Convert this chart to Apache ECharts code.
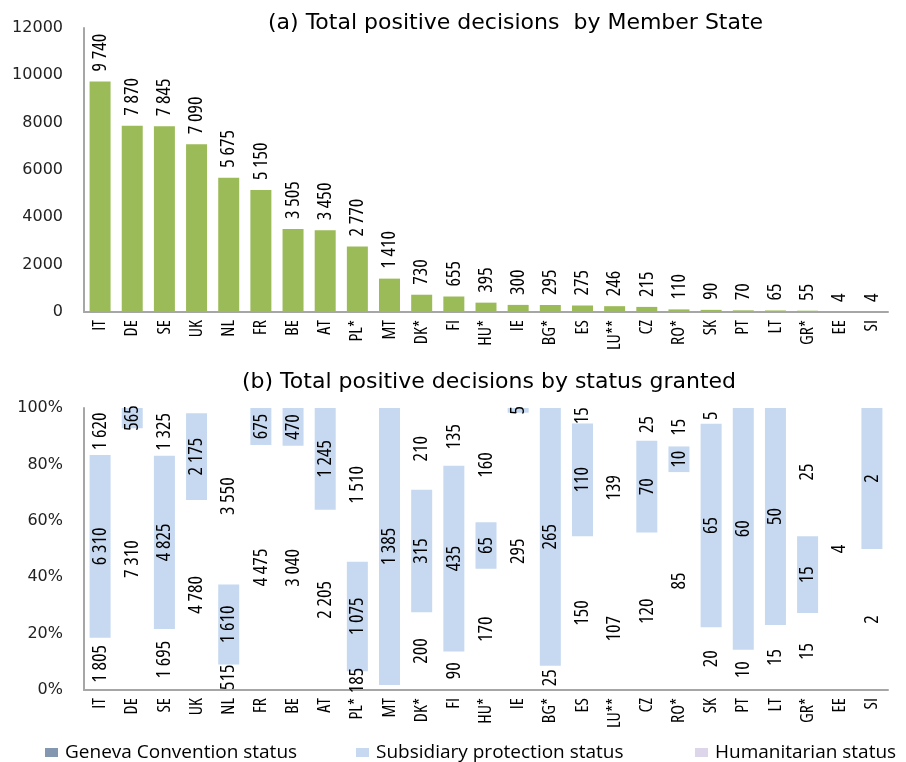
<!DOCTYPE html>
<html>
<head>
<meta charset="utf-8">
<script src="https://cdn.jsdelivr.net/npm/echarts@6/dist/echarts.min.js"></script>
<style>
  html, body { margin: 0; padding: 0; background: #fff; }
  #chart { width: 906px; height: 762px; }
</style>
</head>
<body>
<div id="chart"></div>
<script>
// Member States, ordered by total positive decisions
const categories = ['IT','DE','SE','UK','NL','FR','BE','AT','PL*','MT','DK*','FI','HU*','IE','BG*','ES','LU**','CZ','RO*','SK','PT','LT','GR*','EE','SI'];

// (a) total positive decisions
const totals = [9740,7870,7845,7090,5675,5150,3505,3450,2770,1410,730,655,395,300,295,275,246,215,110,90,70,65,55,4,4];

// (b) positive decisions by status granted
const geneva       = [1805,7310,1695,4780,515,4475,3040,2205,185,25,200,90,170,295,25,150,107,120,85,20,10,15,15,4,2];
const subsidiary   = [6310,565,4825,2175,1610,675,470,1245,1075,1385,315,435,65,5,265,110,0,70,10,65,60,50,15,0,2];
const humanitarian = [1620,0,1325,135,3550,0,0,0,1510,0,210,135,160,0,0,15,139,25,15,5,0,0,25,0,0];

// segments drawn without a value label
const unlabelled = { geneva: ['MT'], humanitarian: ['UK'] };

const yTicksA = { min: 0, max: 12000, interval: 2000 };
const yTicksB = { min: 0, max: 100, interval: 20 };

const statusNames = ['Geneva Convention status', 'Subsidiary protection status', 'Humanitarian status'];
const legendColors = ['#8497b0', '#c6d9f1', '#ddd5ea'];

// narrow label face: Open Sans at its condensed width
const narrow = { fontFamily: "'Open Sans', sans-serif", fontStyle: 'condensed' };
const wideFont = "'DejaVu Sans', Verdana, sans-serif";

function fmt(v) {
  return String(v).replace(/\B(?=(\d{3})+(?!\d))/g, ' ');
}

const sums = categories.map((c, i) => geneva[i] + subsidiary[i] + humanitarian[i]);

function shareSeries(name, values, color, key) {
  const skip = unlabelled[key] || [];
  return {
    name: name,
    type: 'bar',
    stack: 'share',
    xAxisIndex: 1,
    yAxisIndex: 1,
    barWidth: 21,
    itemStyle: { color: color },
    emphasis: { disabled: true },
    data: values.map((v, i) => ({
      value: v / sums[i] * 100,
      raw: v,
      label: { show: v > 0 && skip.indexOf(categories[i]) < 0 }
    })),
    label: Object.assign({
      show: true,
      position: 'inside',
      rotate: 90,
      align: 'center',
      verticalAlign: 'middle',
      fontSize: 20,
      color: '#000',
      formatter: p => fmt(p.data.raw)
    }, narrow)
  };
}

const axisLineStyle = { show: true, lineStyle: { color: '#a6a6a6', width: 2 } };

const chart = echarts.init(document.getElementById('chart'), null, { renderer: 'canvas' });

const legendLefts = [45, 356, 695];

chart.setOption({
  animation: false,
  backgroundColor: '#fff',
  title: [
    {
      text: '(a) Total positive decisions  by Member State',
      left: 263, top: 7,
      textStyle: { fontFamily: wideFont, fontSize: 22, fontWeight: 'normal', color: '#000' }
    },
    {
      text: '(b) Total positive decisions by status granted',
      left: 237, top: 366,
      textStyle: { fontFamily: wideFont, fontSize: 22, fontWeight: 'normal', color: '#000' }
    }
  ],
  legend: statusNames.map((n, k) => ({
    left: legendLefts[k], top: 743,
    padding: 0,
    itemWidth: 13, itemHeight: 9, itemGap: 0,
    icon: 'rect',
    selectedMode: false,
    textStyle: { fontFamily: "'Open Sans', sans-serif", fontSize: 19, color: '#000', padding: [0, 0, 0, 2] },
    data: [{ name: n, itemStyle: { color: legendColors[k] } }]
  })),
  grid: [
    { left: 84, right: 18, top: 28, height: 284 },
    { left: 84, right: 18, top: 408, height: 282 }
  ],
  xAxis: [0, 1].map(g => ({
    type: 'category',
    gridIndex: g,
    data: categories,
    axisLine: axisLineStyle,
    axisTick: { show: false },
    axisLabel: Object.assign({
      interval: 0, rotate: 90, margin: 8,
      fontSize: 18, color: '#000'
    }, narrow),
    splitLine: { show: false }
  })),
  yAxis: [
    Object.assign({
      type: 'value', gridIndex: 0,
      axisLabel: { fontFamily: wideFont, fontSize: 16, color: '#222', margin: 21, formatter: v => String(v) }
    }, yTicksA),
    Object.assign({
      type: 'value', gridIndex: 1,
      axisLabel: { fontFamily: wideFont, fontSize: 16, color: '#222', margin: 21, formatter: v => v + '%' }
    }, yTicksB)
  ].map(a => Object.assign(a, {
    axisLine: axisLineStyle,
    axisTick: { show: false },
    splitLine: { show: false }
  })),
  series: [
    {
      name: 'Total',
      type: 'bar',
      xAxisIndex: 0, yAxisIndex: 0,
      barWidth: 21,
      itemStyle: { color: '#9bbb59' },
      emphasis: { disabled: true },
      data: totals,
      label: Object.assign({
        show: true,
        position: 'top',
        rotate: 90,
        align: 'left',
        verticalAlign: 'middle',
        distance: 10,
        fontSize: 20,
        color: '#000',
        formatter: p => fmt(p.value)
      }, narrow)
    },
    shareSeries(statusNames[0], geneva, 'rgba(255,255,255,0)', 'geneva'),
    shareSeries(statusNames[1], subsidiary, '#c6d9f1', 'subsidiary'),
    shareSeries(statusNames[2], humanitarian, 'rgba(255,255,255,0)', 'humanitarian')
  ]
});
</script>
</body>
</html>
